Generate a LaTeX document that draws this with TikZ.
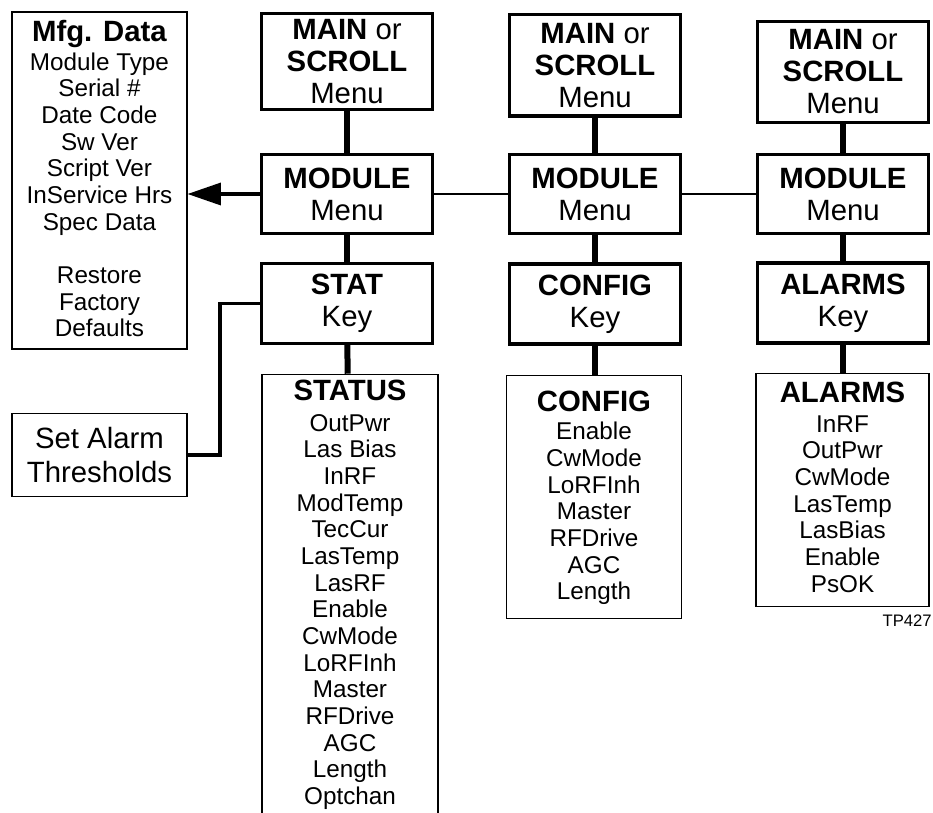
\documentclass[tikz,border=0pt]{standalone}
\usepackage{fontspec}
\setmainfont{Liberation Sans}
\usetikzlibrary{arrows.meta,positioning}
\newcommand{\headfont}{\bfseries\fontsize{22}{24}\selectfont}
\begin{document}
\begin{tikzpicture}[x=1pt,y=-1pt,
    menubox/.style={draw,line width=2.5pt,minimum width=128pt,align=center,inner sep=0pt,font=\fontsize{22}{24}\selectfont},
    listbox/.style={draw,line width=1.1pt,minimum width=131pt,inner sep=0pt},
    listtext/.style={align=center,inner sep=0pt,font=\fontsize{18.2}{20}\selectfont},
    trunk/.style={line width=4.5pt},
    link/.style={line width=2.5pt,line join=miter},
    hlink/.style={line width=1.75pt}]
    \clip (0,0) rectangle (699.75,609.75);

    \node[menubox,minimum height=72pt] (main1) at (260.25,46.1) {\textbf{MAIN} or\\\textbf{SCROLL}\\Menu};
    \node[menubox,minimum height=76pt] (main2) at (446.25,49.1) {\textbf{MAIN} or\\\textbf{SCROLL}\\Menu};
    \node[menubox,minimum height=75.5pt] (main3) at (632.25,54) {\textbf{MAIN} or\\\textbf{SCROLL}\\Menu};

    \node[menubox,minimum height=59pt] (mod1) at (260.25,145.5) {\textbf{MODULE}\\Menu};
    \node[menubox,minimum height=59pt] (mod2) at (446.25,145.5) {\textbf{MODULE}\\Menu};
    \node[menubox,minimum height=59pt] (mod3) at (632.25,145.5) {\textbf{MODULE}\\Menu};

    \node[menubox,minimum height=60pt] (statkey) at (260.25,227.6) {\textbf{STAT}\\Key};
    \node[menubox,minimum height=60pt] (cfgkey) at (446.25,228) {\textbf{CONFIG}\\Key};
    \node[menubox,minimum height=60pt] (almkey) at (632.25,227.3) {\textbf{ALARMS}\\Key};

    \node[listbox,minimum width=132pt,minimum height=400pt,anchor=north] (statlist) at (262.5,280.3) {};
    \node[listbox,minimum height=182pt] (cfglist) at (445.5,372.75) {};
    \node[listbox,minimum width=130pt,minimum height=174.5pt] (almlist) at (631.9,367.5) {};
    \node[listbox,minimum height=253pt] (mfg) at (74.6,135.4) {};
    \node[listbox,minimum height=62pt,align=center,font=\fontsize{22}{25}\selectfont] (setalarm) at (74.6,341.25) {Set Alarm\\Thresholds};

    \node[listtext,below=4.5pt of statlist.north] (stattext) {{\headfont STATUS}\\[3pt]
        OutPwr\\Las Bias\\InRF\\ModTemp\\TecCur\\LasTemp\\LasRF\\Enable\\CwMode\\LoRFInh\\Master\\RFDrive\\AGC\\Length\\Optchan};
    \node[listtext,below=11.5pt of cfglist.north] (cfgtext) {{\headfont CONFIG}\\[1.5pt]
        Enable\\CwMode\\LoRFInh\\Master\\RFDrive\\AGC\\Length};
    \node[listtext,below=6.5pt of almlist.north] (almtext) {{\headfont ALARMS}\\[2.3pt]
        InRF\\OutPwr\\CwMode\\LasTemp\\LasBias\\Enable\\PsOK};
    \node[listtext,below=7pt of mfg.north] (mfgtext) {{\headfont Mfg. Data}\\[1.2pt]
        Module Type\\Serial \#\\Date Code\\Sw Ver\\Script Ver\\InService Hrs\\Spec Data\\[20pt]
        Restore\\Factory\\Defaults};

    \node[anchor=base east,inner sep=0pt,font=\fontsize{12.5}{14}\selectfont] (tpnum) at (699,469.5) {TP427};

    \draw[trunk] (main1) -- (mod1);
    \draw[trunk] (mod1) -- (statkey);
    \draw[trunk] (statkey) -- (statlist);
    \draw[trunk] (main2) -- (mod2);
    \draw[trunk] (mod2) -- (cfgkey);
    \draw[trunk] (cfgkey.south) -- (cfgkey.south |- cfglist.north);
    \draw[trunk] (main3) -- (mod3);
    \draw[trunk] (mod3) -- (almkey);
    \draw[trunk] (almkey.south) -- (almkey.south |- almlist.north);

    \draw[hlink] (mod1) -- (mod2);
    \draw[hlink] (mod2) -- (mod3);
    \draw[link,-{Triangle[length=25pt,width=16.5pt]}] (mod1.west) -- (mod1.west -| mfg.east);
    \draw[link] (statkey.west) -- ++(-30,0) |- (setalarm.east);
\end{tikzpicture}
\end{document}
